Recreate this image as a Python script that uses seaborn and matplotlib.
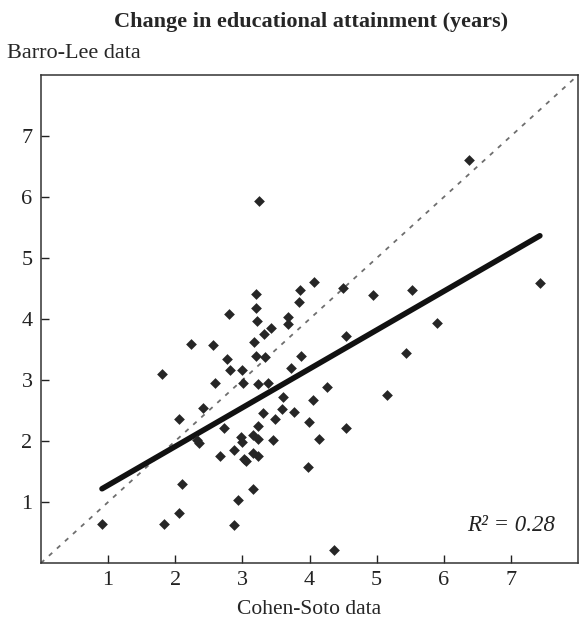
import numpy as np
import pandas as pd
import seaborn as sns
from matplotlib import pyplot as plt

# change in years of schooling
cohen_soto = [0.91, 1.80, 1.84, 2.05, 2.06, 2.10, 2.24, 2.32, 2.35, 2.42,
              2.57, 2.60, 2.67, 2.73, 2.77, 2.80, 2.81, 2.87, 2.88, 2.93,
              2.98, 2.99, 3.00, 3.01, 3.02, 3.05, 3.16, 3.16, 3.16, 3.17,
              3.20, 3.21, 3.22, 3.20, 3.23, 3.24, 3.23, 3.24, 3.25, 3.31,
              3.32, 3.33, 3.38, 3.42, 3.46, 3.49, 3.59, 3.61, 3.68, 3.68,
              3.72, 3.77, 3.84, 3.86, 3.87, 3.97, 3.99, 4.05, 4.07, 4.14,
              4.26, 4.36, 4.50, 4.54, 4.55, 4.95, 5.16, 5.44, 5.52, 5.90,
              6.37, 7.43]
barro_lee = [0.64, 3.10, 0.64, 2.37, 0.82, 1.30, 3.59, 2.02, 1.97, 2.55,
             3.57, 2.96, 1.75, 2.21, 3.34, 4.09, 3.17, 1.86, 0.62, 1.03,
             2.06, 1.99, 3.16, 2.96, 1.70, 1.68, 2.10, 1.81, 1.21, 3.62,
             4.41, 4.18, 3.97, 3.39, 2.25, 2.03, 2.93, 1.75, 5.94, 2.46,
             3.75, 3.38, 2.95, 3.85, 2.02, 2.36, 2.52, 2.73, 4.03, 3.92,
             3.19, 2.48, 4.28, 4.48, 3.39, 1.58, 2.32, 2.68, 4.60, 2.04,
             2.88, 0.22, 4.51, 3.72, 2.21, 4.39, 2.76, 3.45, 4.48, 3.93,
             6.60, 4.59]
# fitted line as shown in the source (slope, intercept)
fit_slope = 0.636
fit_intercept = 0.64
r2_label = "0.28"
ticks = [1, 2, 3, 4, 5, 6, 7]

df = pd.DataFrame({"cs": cohen_soto, "bl": barro_lee})
xr = np.array([min(cohen_soto), max(cohen_soto)])
fit = pd.DataFrame({"x": xr, "y": fit_intercept + fit_slope * xr})

sns.set_style("white")
plt.rcParams['font.family'] = ['Liberation Serif', 'DejaVu Serif']

fig = plt.figure(figsize=(5.84, 6.25), dpi=100)
ax = fig.add_axes([0.070, 0.099, 0.920, 0.781])

# 45 degree line
sns.lineplot(x=[0, 8], y=[0, 8], ax=ax, color="#6e6e6e", lw=1.3, dashes=(2.5, 3.5), zorder=1)
sns.lineplot(data=fit, x="x", y="y", ax=ax, color="#111111", lw=4, zorder=2)
sns.scatterplot(data=df, x="cs", y="bl", ax=ax, marker="D", s=30, color="#262626",
                linewidth=0, zorder=3)

ax.set_xlim(0, 8)
ax.set_ylim(0, 8)
ax.set_xticks(ticks)
ax.set_yticks(ticks)
ax.tick_params(direction="in", length=6, width=1, labelsize=16, colors="#222222",
               bottom=True, left=True, pad=6)
for s in ax.spines.values():
    s.set_color("#333333")
    s.set_linewidth(1.1)
ax.set_xlabel("Cohen-Soto data", fontsize=15.5, labelpad=7)
ax.set_ylabel("")

ax.text(0.958, 0.055, "R\u00b2 = " + r2_label, transform=ax.transAxes, ha="right",
        va="bottom", fontsize=16.5, style="italic", color="#222222")

fig.text(0.533, 0.964, "Change in educational attainment (years)", ha="center",
         va="center", fontsize=16, fontweight="bold")
fig.text(0.012, 0.915, "Barro-Lee data", ha="left", va="center", fontsize=16)

fig.savefig("out.png", dpi=100)
